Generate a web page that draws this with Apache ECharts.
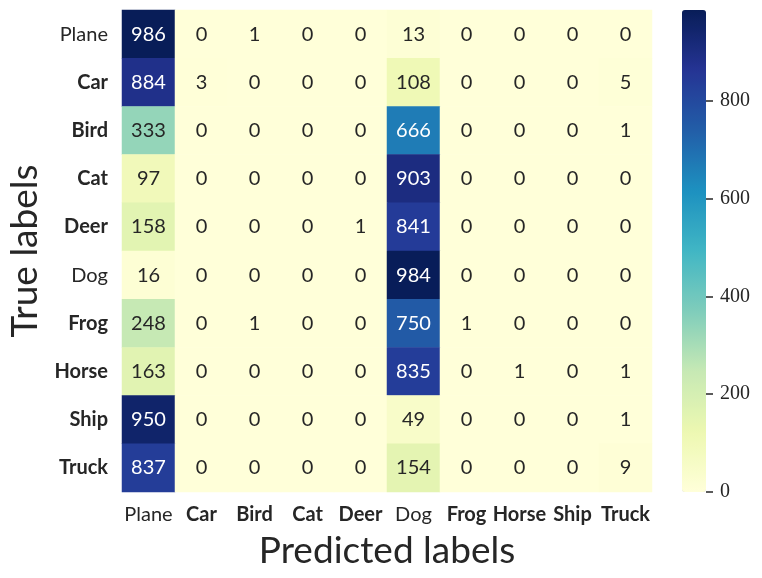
<!DOCTYPE html>
<html>
<head>
<meta charset="utf-8">
<script src="https://cdn.jsdelivr.net/npm/echarts@6/dist/echarts.min.js"></script>
<style>
  html, body { margin: 0; padding: 0; background: #fff; }
  #chart { width: 762px; height: 578px; }
</style>
</head>
<body>
<div id="chart"></div>
<script>
"use strict";

var classes = ['Plane', 'Car', 'Bird', 'Cat', 'Deer', 'Dog', 'Frog', 'Horse', 'Ship', 'Truck'];
var plainLabels = ['Plane', 'Dog'];

// rows = true label, columns = predicted label
var rowPlane = [986, 0, 1, 0, 0, 13, 0, 0, 0, 0];
var rowCar   = [884, 3, 0, 0, 0, 108, 0, 0, 0, 5];
var rowBird  = [333, 0, 0, 0, 0, 666, 0, 0, 0, 1];
var rowCat   = [97, 0, 0, 0, 0, 903, 0, 0, 0, 0];
var rowDeer  = [158, 0, 0, 0, 1, 841, 0, 0, 0, 0];
var rowDog   = [16, 0, 0, 0, 0, 984, 0, 0, 0, 0];
var rowFrog  = [248, 0, 1, 0, 0, 750, 1, 0, 0, 0];
var rowHorse = [163, 0, 0, 0, 0, 835, 0, 1, 0, 1];
var rowShip  = [950, 0, 0, 0, 0, 49, 0, 0, 0, 1];
var rowTruck = [837, 0, 0, 0, 0, 154, 0, 0, 0, 9];
var matrix = [rowPlane, rowCar, rowBird, rowCat, rowDeer, rowDog, rowFrog, rowHorse, rowShip, rowTruck];

var valueMax = 986;

var ylgnbu = ['#ffffd9', '#edf8b1', '#c7e9b4', '#7fcdbb', '#41b6c4', '#1d91c0', '#225ea8', '#253494', '#081d58'];

var cells = [];
for (var r = 0; r < matrix.length; r++) {
	for (var c = 0; c < matrix[r].length; c++) {
		var v = matrix[r][c];
		cells.push({
			value: [c, r, v],
			label: { color: v > 500 ? '#ffffff' : '#262626' }
		});
	}
}

function classLabel(name) {
	return plainLabels.indexOf(name) >= 0 ? '{n|' + name + '}' : '{b|' + name + '}';
}

var labelRich = {
	n: { fontFamily: 'Lato', fontSize: 20, color: '#262626', fontWeight: 'normal' },
	b: { fontFamily: 'Lato', fontSize: 20, color: '#262626', fontWeight: 'bold' }
};

var myChart = echarts.init(document.getElementById('chart'));

var option = {
	animation: false,
	backgroundColor: '#ffffff',
	grid: [{
		left: 122,
		top: 10,
		width: 530,
		height: 482,
		containLabel: false,
		outerBoundsMode: 'none'
	}, {
		left: 682,
		top: 10,
		width: 24,
		height: 482,
		containLabel: false,
		outerBoundsMode: 'none'
	}],
	xAxis: [{
		type: 'category',
		gridIndex: 0,
		data: classes,
		axisLine: { show: false },
		axisTick: { show: false },
		splitLine: { show: false },
		axisLabel: {
			interval: 0,
			margin: 13,
			formatter: classLabel,
			rich: labelRich
		},
		name: 'Predicted labels',
		nameLocation: 'middle',
		nameGap: 41,
		nameTextStyle: { fontFamily: 'Lato', fontSize: 37, color: '#262626' }
	}, {
		type: 'value',
		gridIndex: 1,
		show: false
	}],
	yAxis: [{
		type: 'category',
		gridIndex: 0,
		data: classes,
		inverse: true,
		axisLine: { show: false },
		axisTick: { show: false },
		splitLine: { show: false },
		axisLabel: {
			interval: 0,
			margin: 14,
			formatter: classLabel,
			rich: labelRich
		},
		name: 'True labels',
		nameLocation: 'middle',
		nameGap: 78,
		nameTextStyle: { fontFamily: 'Lato', fontSize: 37, color: '#262626' }
	}, {
		type: 'value',
		gridIndex: 1,
		position: 'right',
		min: 0,
		max: valueMax,
		interval: 200,
		z: 10,
		axisLine: { show: false, onZero: false },
		splitLine: { show: false },
		axisTick: { show: true, length: 7, lineStyle: { color: '#262626', width: 1.5 } },
		axisLabel: {
			margin: 14,
			showMaxLabel: false,
			fontFamily: 'Liberation Serif',
			fontSize: 20,
			color: '#262626'
		}
	}],
	visualMap: {
		type: 'continuous',
		seriesIndex: 0,
		min: 0,
		max: valueMax,
		calculable: false,
		left: 682,
		top: 10,
		padding: 0,
		itemWidth: 24,
		itemHeight: 482,
		text: null,
		showLabel: false,
		inRange: { color: ylgnbu }
	},
	series: [{
		type: 'heatmap',
		xAxisIndex: 0,
		yAxisIndex: 0,
		data: cells,
		label: {
			show: true,
			fontFamily: 'Lato',
			fontSize: 20,
			formatter: function (p) { return p.value[2]; }
		},
		itemStyle: { borderWidth: 0 }
	}]
};

myChart.setOption(option);
</script>
</body>
</html>
